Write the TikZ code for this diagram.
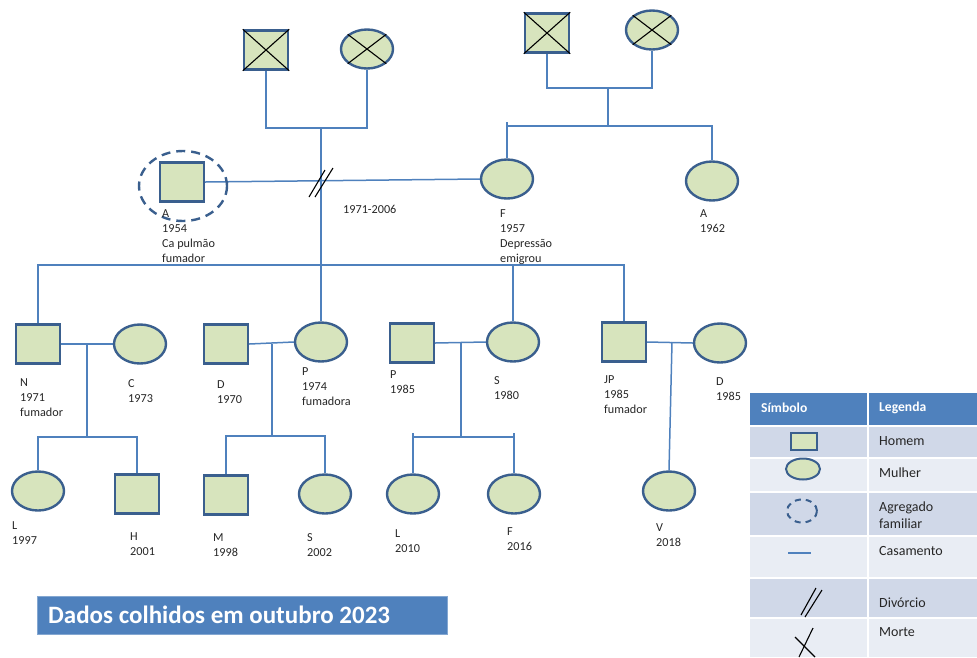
\documentclass[tikz,border=0pt]{standalone}
\usepackage{fontspec}
\setmainfont{Carlito}
\usetikzlibrary{shapes.geometric,calc,backgrounds}

\definecolor{nodefill}{HTML}{D7E4BD}
\definecolor{nodeedge}{HTML}{3A5F8E}
\definecolor{linkblue}{HTML}{4F81BD}
\definecolor{headblue}{HTML}{4F81BD}
\definecolor{banddark}{HTML}{D0D8E8}
\definecolor{bandlight}{HTML}{E9EDF4}

\tikzset{
  male/.style={rectangle, draw=nodeedge, fill=nodefill, line width=2.4pt,
    minimum width=44pt, minimum height=39pt, inner sep=0pt},
  female/.style={ellipse, draw=nodeedge, fill=nodefill, line width=2.4pt,
    minimum width=52pt, minimum height=39pt, inner sep=0pt},
  link/.style={draw=linkblue, line width=1.5pt},
  crossline/.style={draw=black, line width=1.1pt},
  lbl/.style={anchor=north west, inner sep=0pt, align=left,
    font=\fontsize{12.2}{15}\selectfont, text=black!85},
  legtext/.style={anchor=west, inner sep=0pt, align=left,
    font=\fontsize{14}{17}\selectfont, text=black!85},
  leghead/.style={anchor=west, inner sep=0pt, text=white,
    font=\fontsize{13.6}{16}\selectfont\bfseries},
  household/.style={ellipse, draw=nodeedge, line width=2.4pt,
    dash pattern=on 9pt off 6pt, inner sep=0pt},
}

\begin{document}
\begin{tikzpicture}[x=1pt, y=-1pt]
\useasboundingbox (0,0) rectangle (977,657);

% ---------- grandparents ----------
\node[male]   (gf1) at (266,50) {};
\node[female] (gm1) at (367,49) {};
\node[male]   (gf2) at (547,33) {};
\node[female] (gm2) at (652,30) {};
\foreach \n in {gf1,gm1,gf2,gm2}{
  \draw[crossline] (\n.north west) -- (\n.south east);
  \draw[crossline] (\n.north east) -- (\n.south west);
}

% ---------- parents ----------
\node[male]   (a54) at (182,182) {};
\node[household, minimum width=88pt, minimum height=70pt] (hh) at (183,186) {};
\node[female] (f57) at (507,179) {};
\node[female] (a62) at (712,181) {};

% ---------- children ----------
\node[male]   (n71)  at (38,344) {};
\node[female] (c73)  at (140,344) {};
\node[male]   (d70)  at (226,344) {};
\node[female] (p74)  at (321,342) {};
\node[male]   (p85)  at (412,343) {};
\node[female] (s80)  at (513,342) {};
\node[male]   (jp85) at (624,342) {};
\node[female] (d85)  at (720,343) {};

% ---------- grandchildren ----------
\node[female] (l97) at (38,491) {};
\node[male]   (h01) at (137,494) {};
\node[male]   (m98) at (226,495) {};
\node[female] (s02) at (325,494) {};
\node[female] (l10) at (413,494) {};
\node[female] (f16) at (514,494) {};
\node[female] (v18) at (669,491) {};

% ---------- junction points ----------
\coordinate (jL)   at (321,128);
\coordinate (jR)   at (608,88);
\coordinate (sibR) at (608,126);
\coordinate (div)  at (321,182);
\coordinate (sib)  at (321,265);
\coordinate (mNC)  at (87,344);
\coordinate (cNC)  at (87,437);
\coordinate (mDP)  at (272,344);
\coordinate (cDP)  at (272,436);
\coordinate (mPS)  at (461,343);
\coordinate (cPS)  at (461,437);
\coordinate (mJD)  at (672,342);

% ---------- connectors ----------
\begin{scope}[on background layer]
\draw[link] (gf1.south) |- (jL) -| (gm1.south);
\draw[link] (jL) -- (p74.north);
\draw[link] (gf2.south) |- (jR) -| (gm2.south);
\draw[link] (jR) -- (sibR);
\draw[link] ([yshift=4pt]f57.north |- sibR) -- (f57.north);
\draw[link] (f57.north |- sibR) -| (a62.north);
\draw[link] (a54.east) -- (f57.west);
\draw[link] (n71.north) |- (sib) -| (jp85.north);
\draw[link] (s80.north) -- (s80.north |- sib);

\draw[link] (n71.east) -- (c73.west);
\draw[link] (mNC) -- (cNC);
\draw[link] (l97.north) |- (cNC) -| (h01.north);

\draw[link] (d70.east) -- (p74.west);
\draw[link] (mDP) -- (cDP);
\draw[link] (m98.north) |- (cDP) -| (s02.north);

\draw[link] (p85.east) -- (s80.west);
\draw[link] (mPS) -- (cPS);
\draw[link] ([yshift=4pt]l10.north |- cPS) -- (l10.north);
\draw[link] ([yshift=4pt]f16.north |- cPS) -- (f16.north);
\draw[link] (l10.north |- cPS) -- (f16.north |- cPS);

\draw[link] (jp85.east) -- (d85.west);
\draw[link] (mJD) -- (v18.north);
\end{scope}

% divorce marks
\draw[crossline] ($(div)+(-12,15)$) -- ($(div)+(4,-12)$);
\draw[crossline] ($(div)+(-6,15)$) -- ($(div)+(12,-14)$);

% ---------- labels ----------
\node[lbl] (t1) at (162,209) {A\\1954\\Ca pulmão\\fumador};
\node[lbl] (t2) at (343,205) {1971-2006};
\node[lbl] (t3) at (500,209) {F\\1957\\Depressão\\emigrou};
\node[lbl] (t4) at (700,209) {A\\1962};
\node[lbl] (t5) at (20,378) {N\\1971\\fumador};
\node[lbl] (t6) at (128,379) {C\\1973};
\node[lbl] (t7) at (217,380) {D\\1970};
\node[lbl] (t8) at (302,367) {P\\1974\\fumadora};
\node[lbl] (t9) at (390,370) {P\\1985};
\node[lbl] (t10) at (494,376) {S\\1980};
\node[lbl] (t11) at (604,375) {JP\\1985\\fumador};
\node[lbl] (t12) at (716,377) {D\\1985};
\node[lbl] (t13) at (12,521) {L\\1997};
\node[lbl] (t14) at (130,532) {H\\2001};
\node[lbl] (t15) at (213,533) {M\\1998};
\node[lbl] (t16) at (307,533) {S\\2002};
\node[lbl] (t17) at (395,529) {L\\2010};
\node[lbl] (t18) at (507,527) {F\\2016};
\node[lbl] (t19) at (656,523) {V\\2018};

% ---------- banner ----------
\node[draw=headblue!70!white, fill=headblue, line width=0.6pt, anchor=north west,
  minimum width=410pt, minimum height=38pt, inner sep=0pt] (banner) at (37,596) {};
\node[anchor=west, inner sep=0pt, text=white, font=\fontsize{25}{28}\selectfont\bfseries]
  (bannertext) at (48,615) {Dados colhidos em outubro 2023};

% ---------- legend table ----------
\fill[headblue]  (750,393) rectangle (977,425);
\fill[banddark]  (750,427) rectangle (977,458);
\fill[bandlight] (750,458) rectangle (977,492);
\fill[banddark]  (750,492) rectangle (977,536);
\fill[bandlight] (750,536) rectangle (977,578);
\fill[banddark]  (750,578) rectangle (977,618);
\fill[bandlight] (750,618) rectangle (977,657);
\foreach \yy in {458,492,536,578,618}{
  \draw[white, line width=1.6pt] (750,\yy) -- (977,\yy);
}
\draw[white, line width=1.6pt] (868,393) -- (868,657);

\node[leghead] (hsym) at (761,408) {Símbolo};
\node[leghead] (hleg) at (879,408) {Legenda};

\node[male, minimum width=26pt, minimum height=17pt, line width=2pt] (kmale) at (804,441) {};
\node[female, minimum width=34pt, minimum height=21pt, line width=2pt] (kfemale) at (803,469) {};
\node[household, minimum width=30pt, minimum height=23pt, line width=2pt,
  dash pattern=on 6pt off 5pt] (khh) at (802,511) {};
\coordinate (kmA) at (788,553);
\coordinate (kmB) at (811,553);
\draw[link, line width=1.3pt] (kmA) -- (kmB);
\coordinate (kdiv) at (811,603);
\draw[crossline] ($(kdiv)+(-10,12)$) -- ($(kdiv)+(5,-15)$);
\draw[crossline] ($(kdiv)+(-6,14)$) -- ($(kdiv)+(11,-13)$);
\coordinate (kxA) at (813,628);
\coordinate (kxB) at (799,657);
\coordinate (kxC) at (795,637);
\coordinate (kxD) at (815,657);
\draw[crossline] (kxA) -- (kxB);
\draw[crossline] (kxC) -- (kxD);

\node[legtext] (lm) at (879,441) {Homem};
\node[legtext] (lf) at (879,473) {Mulher};
\node[legtext] (lh) at (879,515) {Agregado\\familiar};
\node[legtext] (lc) at (879,551) {Casamento};
\node[legtext] (ld) at (879,603) {Divórcio};
\node[legtext] (lmo) at (879,632) {Morte};
\end{tikzpicture}
\end{document}
